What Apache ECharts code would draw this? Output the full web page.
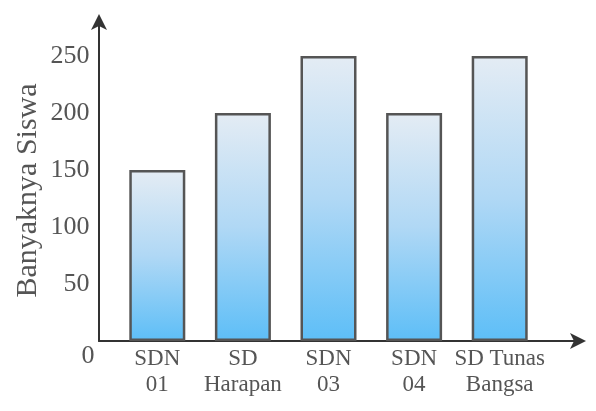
<!DOCTYPE html>
<html>
<head>
<meta charset="utf-8">
<script src="https://cdn.jsdelivr.net/npm/echarts@6/dist/echarts.min.js"></script>
<style>html,body{margin:0;padding:0;background:#fff}#c{width:596px;height:411px}</style>
</head>
<body>
<div id="c"></div>
<script>
const categories = ['SDN\n01', 'SD\nHarapan', 'SDN\n03', 'SDN\n04', 'SD Tunas\nBangsa'];
const values = [150, 200, 250, 200, 250];
const yTicks = [0, 50, 100, 150, 200, 250];
const yTitle = 'Banyaknya Siswa';

const FONT = '"Liberation Serif", "DejaVu Serif", serif';
const TXT = '#555';

const chart = echarts.init(document.getElementById('c'), null, {renderer: 'canvas'});
chart.setOption({
  animation: false,
  backgroundColor: '#fff',
  grid: [
    {left: 114.5, width: 428, top: 56, bottom: 70},
    {left: 99, right: 16, top: 20, bottom: 70}
  ],
  xAxis: [
    {
      type: 'category', gridIndex: 0, data: categories,
      axisLine: {show: false}, axisTick: {show: false},
      axisLabel: {fontFamily: FONT, fontSize: 23, color: TXT, lineHeight: 26, margin: 5, interval: 0}
    },
    {
      type: 'value', gridIndex: 1, min: 0, max: 1,
      axisLabel: {show: false}, axisTick: {show: false}, splitLine: {show: false},
      axisLine: {show: true, symbol: ['none', 'arrow'], symbolSize: [12, 16], symbolOffset: [0, 6], lineStyle: {color: '#333', width: 2}}
    }
  ],
  yAxis: [
    {
      type: 'value', gridIndex: 0, min: yTicks[0], max: yTicks[yTicks.length - 1], interval: 50,
      axisLine: {show: false}, axisTick: {show: false}, splitLine: {show: false},
      axisLabel: {
        margin: 20, fontFamily: FONT, fontSize: 26, color: TXT,
        formatter: v => v === 0 ? '{z|0}' : '{a|' + v + '}',
        rich: {
          a: {fontFamily: FONT, fontSize: 26, color: TXT, padding: [0, 5, 0, 0]},
          z: {fontFamily: FONT, fontSize: 26, color: TXT, padding: [30, 0, 0, 0]}
        }
      },
      name: yTitle, nameLocation: 'middle', nameGap: 71, nameRotate: 90, nameMoveOverlap: false,
      nameTextStyle: {fontFamily: FONT, fontSize: 30, color: TXT, padding: [0, 0, 0, 16]}
    },
    {
      type: 'value', gridIndex: 1, min: 0, max: 1,
      axisLabel: {show: false}, axisTick: {show: false}, splitLine: {show: false},
      axisLine: {show: true, symbol: ['none', 'arrow'], symbolSize: [12, 16], symbolOffset: [0, 6], lineStyle: {color: '#333', width: 2}}
    }
  ],
  series: [{
    type: 'bar', xAxisIndex: 0, yAxisIndex: 0, data: values, barWidth: 56,
    itemStyle: {
      borderColor: '#555', borderWidth: 2.5,
      color: new echarts.graphic.LinearGradient(0, 0, 0, 1, [
        {offset: 0, color: '#e4ecf4'},
        {offset: 0.5, color: '#b0d8f5'},
        {offset: 1, color: '#5dbef7'}
      ])
    }
  }]
});
</script>
</body>
</html>
